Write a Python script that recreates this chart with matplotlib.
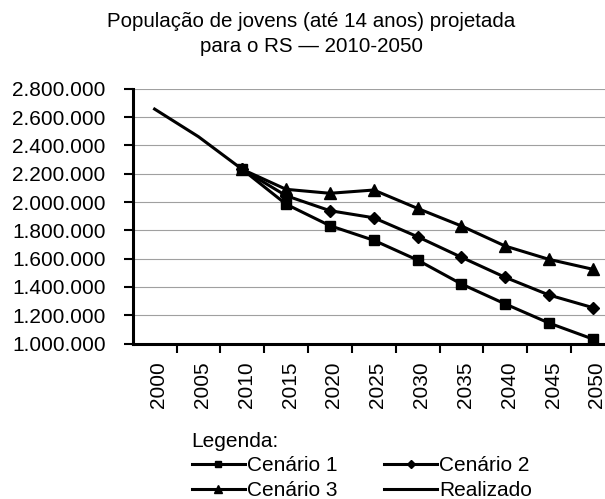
import matplotlib
matplotlib.use("Agg")
import matplotlib.pyplot as plt
import matplotlib.transforms as mtransforms
from matplotlib.lines import Line2D
from matplotlib.ticker import FuncFormatter

plt.rcParams['font.family'] = ['Liberation Sans', 'DejaVu Sans']

# dados
anos = [2000, 2005, 2010, 2015, 2020, 2025, 2030, 2035, 2040, 2045, 2050]
anos_realizado = [2000, 2005, 2010]
realizado = [2657000, 2462000, 2231000]
anos_proj = [2010, 2015, 2020, 2025, 2030, 2035, 2040, 2045, 2050]
cenario1 = [2231000, 1985000, 1833000, 1730000, 1590000, 1421000, 1280000, 1145000, 1032000]
cenario2 = [2231000, 2045000, 1939000, 1889000, 1755000, 1610000, 1468000, 1343000, 1254000]
cenario3 = [2231000, 2090000, 2062000, 2085000, 1955000, 1831000, 1689000, 1595000, 1525000]
y_ticks = [1000000, 1200000, 1400000, 1600000, 1800000, 2000000,
           2200000, 2400000, 2600000, 2800000]

fig = plt.figure(figsize=(6.05, 4.99), dpi=100)
ax = fig.add_axes([0.2193, 0.3114, 0.797, 0.5106])

lw = 2.2
ax.plot(anos_realizado, realizado, color='black', lw=lw, zorder=3)
ax.plot(anos_proj, cenario1, color='black', lw=lw, marker='s', ms=7.2, zorder=4)
ax.plot(anos_proj, cenario2, color='black', lw=lw, marker='D', ms=6.2, zorder=4)
ax.plot(anos_proj, cenario3, color='black', lw=lw, marker='^', ms=8.5, zorder=4)

ax.set_xlim(1997.5, 2052.5)
ax.set_ylim(1000000, 2800000)
ax.set_yticks(y_ticks)
ax.yaxis.set_major_formatter(FuncFormatter(lambda v, p: f"{int(v):,}".replace(",", ".")))
ax.grid(axis='y', color='#a0a0a0', lw=0.8, zorder=0)
ax.set_axisbelow(True)

ax.set_xticks(anos)
ax.set_xticklabels([str(a) for a in anos], rotation=90, va='top', ha='center')
ax.set_xticks([a + 2.5 for a in anos], minor=True)
ax.tick_params(axis='x', which='major', length=0, pad=13, labelsize=15)
ax.tick_params(axis='x', which='minor', length=6.8, width=1.5, color='black')
ax.tick_params(axis='y', length=6.5, width=1.5, pad=13, labelsize=15)

for s in ['top', 'right']:
    ax.spines[s].set_visible(False)
for s in ['left', 'bottom']:
    ax.spines[s].set_linewidth(2.2)

offset = mtransforms.ScaledTranslation(4 / 100, 0, fig.dpi_scale_trans)
for lab in ax.get_xticklabels():
    lab.set_transform(lab.get_transform() + offset)

fig.text(0.515, 1 - 21.7 / 499, 'População de jovens (até 14 anos) projetada',
         ha='center', va='center', fontsize=14.8)
fig.text(0.515, 1 - 46.7 / 499, 'para o RS — 2010-2050',
         ha='center', va='center', fontsize=14.8)

handles = [
    Line2D([], [], color='black', lw=2.2, marker='s', ms=5),
    Line2D([], [], color='black', lw=2.2, marker='^', ms=6),
    Line2D([], [], color='black', lw=2.2, marker='D', ms=4.5),
    Line2D([], [], color='black', lw=2.2),
]
labels = ['Cenário 1', 'Cenário 3', 'Cenário 2', 'Realizado']
leg = fig.legend(handles, labels, ncol=2, title='Legenda:', alignment='left',
                 frameon=False, fontsize=15, title_fontsize=15,
                 handlelength=2.55, handletextpad=0.1, columnspacing=2.25,
                 labelspacing=0.26, borderpad=0, borderaxespad=0,
                 loc='upper left', bbox_to_anchor=(191.7 / 605, 1 - 432 / 499))

fig.savefig('out.png', dpi=100)
